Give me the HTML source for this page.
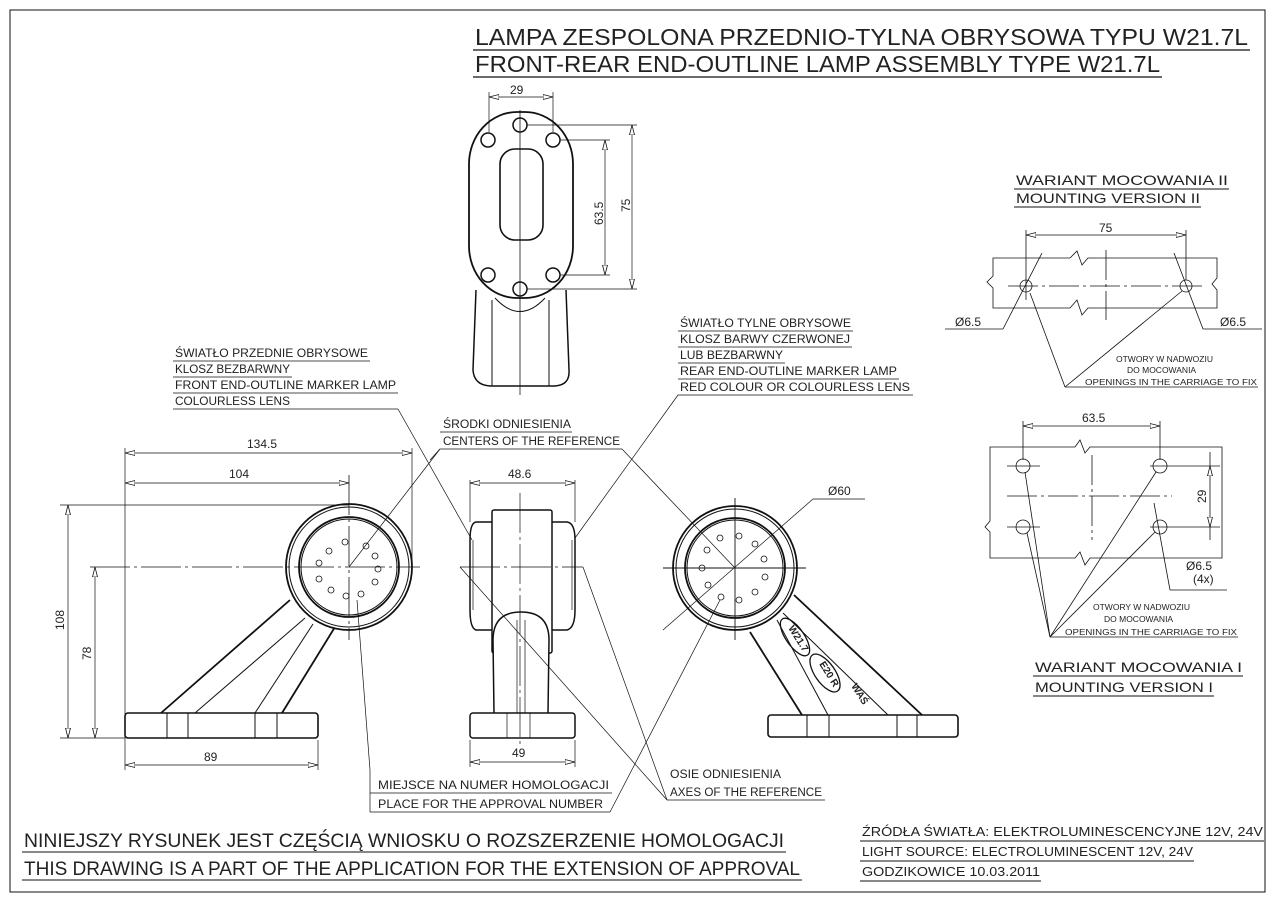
<!DOCTYPE html>
<html><head><meta charset="utf-8"><style>
html,body{margin:0;padding:0;background:#fff}
svg{display:block}
text{font-family:"Liberation Sans",sans-serif;fill:#222}
</style></head><body>
<svg width="1273" height="900" viewBox="0 0 1273 900" xmlns="http://www.w3.org/2000/svg" fill="none" stroke="#111">
<defs>
<marker id="a" viewBox="0 0 10 6" refX="10" refY="3" markerWidth="10" markerHeight="6" orient="auto-start-reverse" markerUnits="userSpaceOnUse"><path d="M10 3 L0 0.5 L0 5.5Z" fill="#fff" stroke="#111" stroke-width="0.8"/></marker>
</defs>
<rect x="10" y="10" width="1255" height="882" stroke-width="1"/>

<!-- Title -->
<g stroke="none">
<text x="475" y="45" font-size="23" textLength="773" lengthAdjust="spacingAndGlyphs">LAMPA ZESPOLONA PRZEDNIO-TYLNA OBRYSOWA TYPU W21.7L</text>
<text x="475" y="72" font-size="23" textLength="685" lengthAdjust="spacingAndGlyphs">FRONT-REAR END-OUTLINE LAMP ASSEMBLY TYPE W21.7L</text>
</g>
<line x1="473" y1="50" x2="1250" y2="50" stroke-width="1.2"/>
<line x1="473" y1="77" x2="1162" y2="77" stroke-width="1.2"/>

<!-- TOP VIEW -->
<g stroke-width="1">
<path d="M476 290 L473 370 Q474 385 490 386 L555 386 Q570 385 569 370 L566 290" stroke-width="1.5"/>
<line x1="492" y1="300" x2="492" y2="386"/><line x1="549" y1="300" x2="549" y2="386"/>
<path d="M495 298 Q520 325 545 298" />
<rect x="469" y="112" width="104" height="186" rx="48" ry="52" stroke-width="1.8" fill="#fff"/>
<rect x="500" y="149" width="43" height="91" rx="15" stroke-width="1.6"/>
<circle cx="520" cy="125" r="7" stroke-width="1.5"/><circle cx="488" cy="140" r="7" stroke-width="1.5"/><circle cx="553" cy="140" r="7" stroke-width="1.5"/>
<circle cx="488" cy="275" r="7" stroke-width="1.5"/><circle cx="553" cy="275" r="7" stroke-width="1.5"/><circle cx="520" cy="289" r="7" stroke-width="1.5"/>
<line x1="520" y1="110" x2="520" y2="395" stroke-width="0.8"/>
<line x1="489" y1="92" x2="489" y2="132" stroke-width="0.7"/><line x1="553" y1="92" x2="553" y2="132" stroke-width="0.7"/>
<line x1="489" y1="97" x2="553" y2="97" stroke-width="0.7" marker-start="url(#a)" marker-end="url(#a)"/>
<line x1="560" y1="140" x2="610" y2="140" stroke-width="0.7"/><line x1="560" y1="275" x2="610" y2="275" stroke-width="0.7"/>
<line x1="605" y1="140" x2="605" y2="275" stroke-width="0.7" marker-start="url(#a)" marker-end="url(#a)"/>
<line x1="527" y1="125" x2="637" y2="125" stroke-width="0.7"/><line x1="527" y1="289" x2="637" y2="289" stroke-width="0.7"/>
<line x1="632" y1="125" x2="632" y2="289" stroke-width="0.7" marker-start="url(#a)" marker-end="url(#a)"/>
</g>
<g stroke="none" font-size="12">
<text x="510" y="94">29</text>
<text x="0" y="0" transform="translate(603,225) rotate(-90)">63.5</text>
<text x="0" y="0" transform="translate(630,212) rotate(-90)">75</text>
</g>

<!-- LEFT VIEW -->
<g stroke-width="1">
<line x1="161" y1="713" x2="290" y2="600" stroke-width="1.8"/>
<line x1="195" y1="713" x2="305" y2="618"/>
<line x1="255" y1="713" x2="313" y2="624"/>
<line x1="282" y1="713" x2="335" y2="627" stroke-width="1.8"/>
<rect x="125" y="713" width="193" height="25" rx="3" stroke-width="1.6" fill="#fff"/>
<line x1="167" y1="713" x2="167" y2="738"/><line x1="188" y1="713" x2="188" y2="738"/>
<line x1="255" y1="713" x2="255" y2="738"/><line x1="277" y1="713" x2="277" y2="738"/>
<circle cx="349" cy="567" r="63" stroke-width="1.8" fill="#fff"/>
<circle cx="349" cy="567" r="60"/>
<circle cx="349" cy="567" r="50" stroke-width="1.8"/>
<circle cx="349" cy="567" r="48"/>
<g stroke-width="0.8">
<circle cx="366" cy="546" r="3"/><circle cx="375" cy="556" r="3"/><circle cx="378" cy="569" r="3"/><circle cx="375" cy="582" r="3"/><circle cx="361" cy="594" r="3"/><circle cx="346" cy="596" r="3"/>
<circle cx="331" cy="590" r="3"/><circle cx="319" cy="579" r="3"/><circle cx="319" cy="563" r="3"/><circle cx="329" cy="551" r="3"/><circle cx="345" cy="542" r="3"/>
</g>
<line x1="90" y1="567" x2="420" y2="567" stroke-width="0.8" stroke-dasharray="40 4 3 4"/>
<line x1="349" y1="475" x2="349" y2="640" stroke-width="0.8" stroke-dasharray="40 4 3 4"/>
<g stroke-width="0.7">
<line x1="125" y1="448" x2="125" y2="770"/><line x1="412" y1="448" x2="412" y2="560"/>
<line x1="125" y1="453" x2="412" y2="453" marker-start="url(#a)" marker-end="url(#a)"/>
<line x1="125" y1="483" x2="349" y2="483" marker-start="url(#a)" marker-end="url(#a)"/>
<line x1="60" y1="505" x2="349" y2="505"/><line x1="60" y1="738" x2="125" y2="738"/>
<line x1="68" y1="505" x2="68" y2="738" marker-start="url(#a)" marker-end="url(#a)"/>
<line x1="95" y1="567" x2="95" y2="738" marker-start="url(#a)" marker-end="url(#a)"/>
<line x1="318" y1="740" x2="318" y2="770"/>
<line x1="125" y1="765" x2="318" y2="765" marker-start="url(#a)" marker-end="url(#a)"/>
</g>
</g>
<g stroke="none" font-size="12">
<text x="247" y="448">134.5</text><text x="229" y="478">104</text><text x="204" y="761">89</text>
<text transform="translate(64,630) rotate(-90)">108</text>
<text transform="translate(91,660) rotate(-90)">78</text>
</g>

<!-- MIDDLE VIEW -->
<g stroke-width="1.5">
<path d="M476 522 L567 522 Q575 523 575 540 L575 610 Q575 628 567 630 L476 630 Q470 628 470 610 L470 540 Q470 523 476 522Z" fill="#fff"/>
<rect x="492" y="510" width="60" height="143" rx="2" fill="#fff"/>
<path d="M494 713 L493 640 Q493 612 521 612 Q549 612 549 640 L548 713" fill="#fff"/>
<rect x="470" y="713" width="105" height="25" rx="3" fill="#fff"/>
</g>
<g stroke-width="0.7">
<line x1="473" y1="540" x2="473" y2="610"/><line x1="572" y1="540" x2="572" y2="610"/>
<line x1="517" y1="620" x2="517" y2="713"/><line x1="525" y1="620" x2="525" y2="713"/>
<line x1="507" y1="713" x2="507" y2="738"/><line x1="530" y1="713" x2="530" y2="738"/>
<line x1="520" y1="493" x2="520" y2="748" stroke-dasharray="40 4 3 4"/>
<line x1="460" y1="567" x2="583" y2="567" stroke-dasharray="40 4 3 4"/>
<line x1="470" y1="480" x2="470" y2="522"/><line x1="575" y1="480" x2="575" y2="522"/>
<line x1="470" y1="483" x2="575" y2="483" marker-start="url(#a)" marker-end="url(#a)"/>
<line x1="470" y1="740" x2="470" y2="767"/><line x1="575" y1="740" x2="575" y2="767"/>
<line x1="470" y1="762" x2="575" y2="762" marker-start="url(#a)" marker-end="url(#a)"/>
</g>
<g stroke="none" font-size="12"><text x="508" y="478">48.6</text><text x="512" y="757">49</text></g>

<!-- RIGHT VIEW -->
<g stroke-width="1">
<line x1="794" y1="595" x2="922" y2="715" stroke-width="1.8"/>
<line x1="750" y1="632" x2="802" y2="715" stroke-width="1.8"/>
<line x1="777" y1="620" x2="828" y2="715"/>
<line x1="783" y1="613" x2="888" y2="715"/>
<rect x="768" y="715" width="190" height="22" rx="3" stroke-width="1.6" fill="#fff"/>
<line x1="807" y1="715" x2="807" y2="737"/><line x1="829" y1="715" x2="829" y2="737"/>
<line x1="897" y1="715" x2="897" y2="737"/><line x1="917" y1="715" x2="917" y2="737"/>
<circle cx="735" cy="568" r="62" stroke-width="1.8" fill="#fff"/>
<circle cx="735" cy="568" r="59"/>
<circle cx="735" cy="568" r="50" stroke-width="1.8"/>
<circle cx="735" cy="568" r="48"/>
<g stroke-width="0.8">
<circle cx="720" cy="538" r="3"/><circle cx="739" cy="536" r="3"/><circle cx="755" cy="544" r="3"/><circle cx="764" cy="559" r="3"/><circle cx="765" cy="577" r="3"/><circle cx="755" cy="592" r="3"/>
<circle cx="739" cy="600" r="3"/><circle cx="721" cy="597" r="3"/><circle cx="708" cy="585" r="3"/><circle cx="702" cy="568" r="3"/><circle cx="707" cy="550" r="3"/>
</g>
<line x1="663" y1="568" x2="806" y2="568" stroke-width="0.9"/>
<line x1="735" y1="498" x2="735" y2="640" stroke-width="0.9"/>
<line x1="663" y1="630" x2="813" y2="499" stroke-width="0.7"/><line x1="813" y1="499" x2="865" y2="499" stroke-width="0.7"/>
<ellipse cx="795" cy="637" rx="22" ry="9" transform="rotate(55 795 637)" stroke-width="1.3"/>
<ellipse cx="825" cy="673" rx="22" ry="10" transform="rotate(55 825 673)" stroke-width="1.3"/>
</g>
<g stroke="none" font-weight="bold" font-size="10">
<text transform="translate(788,628) rotate(58)">W21.7</text>
<text transform="translate(819,664) rotate(58)">E20 R</text>
<text transform="translate(851,686) rotate(58)">WAŚ</text>
</g>
<g stroke="none" font-size="12"><text x="828" y="495">Ø60</text></g>

<!-- Leaders / labels -->
<g stroke-width="0.7">
<line x1="173" y1="361" x2="370" y2="361"/><line x1="173" y1="377" x2="292" y2="377"/>
<line x1="173" y1="393" x2="398" y2="393"/><line x1="173" y1="409" x2="398" y2="409"/>
<line x1="398" y1="409" x2="472" y2="540"/>
<line x1="678" y1="331" x2="853" y2="331"/><line x1="678" y1="347" x2="852" y2="347"/>
<line x1="678" y1="363" x2="785" y2="363"/><line x1="678" y1="379" x2="899" y2="379"/>
<line x1="678" y1="395" x2="913" y2="395"/>
<line x1="678" y1="395" x2="575" y2="538"/>
<line x1="440" y1="432" x2="572" y2="432"/><line x1="440" y1="449" x2="622" y2="449"/>
<line x1="440" y1="449" x2="349" y2="567"/><line x1="440" y1="449" x2="430" y2="460"/>
<line x1="622" y1="449" x2="735" y2="568"/>
<line x1="370" y1="793" x2="612" y2="793"/><line x1="370" y1="812" x2="610" y2="812"/>
<line x1="370" y1="812" x2="370" y2="770"/><line x1="370" y1="770" x2="357" y2="600"/>
<line x1="610" y1="812" x2="720" y2="600"/>
<line x1="667" y1="800" x2="825" y2="800"/>
<line x1="667" y1="800" x2="460" y2="567"/><line x1="667" y1="800" x2="583" y2="567"/>
</g>
<g stroke="none" font-size="11.5">
<text x="175" y="357" textLength="193" lengthAdjust="spacingAndGlyphs">ŚWIATŁO PRZEDNIE OBRYSOWE</text>
<text x="175" y="373" textLength="115" lengthAdjust="spacingAndGlyphs">KLOSZ BEZBARWNY</text>
<text x="175" y="389" textLength="221" lengthAdjust="spacingAndGlyphs">FRONT END-OUTLINE MARKER LAMP</text>
<text x="175" y="405" textLength="115" lengthAdjust="spacingAndGlyphs">COLOURLESS LENS</text>
<text x="680" y="327" textLength="171" lengthAdjust="spacingAndGlyphs">ŚWIATŁO TYLNE OBRYSOWE</text>
<text x="680" y="343" textLength="170" lengthAdjust="spacingAndGlyphs">KLOSZ BARWY CZERWONEJ</text>
<text x="680" y="359" textLength="103" lengthAdjust="spacingAndGlyphs">LUB BEZBARWNY</text>
<text x="680" y="375" textLength="217" lengthAdjust="spacingAndGlyphs">REAR END-OUTLINE MARKER LAMP</text>
<text x="680" y="391" textLength="230" lengthAdjust="spacingAndGlyphs">RED COLOUR OR COLOURLESS LENS</text>
<text x="443" y="428" textLength="128" lengthAdjust="spacingAndGlyphs">ŚRODKI ODNIESIENIA</text>
<text x="443" y="445" textLength="177" lengthAdjust="spacingAndGlyphs">CENTERS OF THE REFERENCE</text>
<text x="378" y="789" textLength="231" lengthAdjust="spacingAndGlyphs">MIEJSCE NA NUMER HOMOLOGACJI</text>
<text x="378" y="808" textLength="225" lengthAdjust="spacingAndGlyphs">PLACE FOR THE APPROVAL NUMBER</text>
<text x="670" y="778" textLength="111" lengthAdjust="spacingAndGlyphs">OSIE ODNIESIENIA</text>
<text x="670" y="796" textLength="152" lengthAdjust="spacingAndGlyphs">AXES OF THE REFERENCE</text>
</g>

<!-- MOUNTING VERSIONS -->
<g stroke="none" font-size="14">
<text x="1016" y="185" textLength="212" lengthAdjust="spacingAndGlyphs">WARIANT MOCOWANIA II</text>
<text x="1016" y="203" textLength="184" lengthAdjust="spacingAndGlyphs">MOUNTING VERSION II</text>
<text x="1035" y="672" textLength="207" lengthAdjust="spacingAndGlyphs">WARIANT MOCOWANIA I</text>
<text x="1035" y="692" textLength="178" lengthAdjust="spacingAndGlyphs">MOUNTING VERSION I</text>
</g>
<g stroke-width="1">
<line x1="1014" y1="189" x2="1229" y2="189"/><line x1="1014" y1="207" x2="1201" y2="207"/>
<line x1="1033" y1="676" x2="1243" y2="676"/><line x1="1033" y1="696" x2="1214" y2="696"/>
</g>
<g stroke-width="0.8">
<path d="M993 258 L1070 258 L1077 251 L1082 265 L1088 258 L1217 258 L1217 278 L1212 284 L1217 290 L1217 308 L1088 308 L1082 315 L1077 300 L1070 308 L993 308 L993 288 L987 282 L993 276 Z"/>
<circle cx="1026" cy="286" r="6"/><circle cx="1186" cy="286" r="6"/>
<line x1="1008" y1="286" x2="1205" y2="286" stroke-dasharray="30 4 3 4"/>
<line x1="1106" y1="250" x2="1106" y2="320" stroke-dasharray="30 4 3 4"/>
<line x1="1026" y1="230" x2="1026" y2="300"/><line x1="1186" y1="230" x2="1186" y2="280"/>
<line x1="1026" y1="235" x2="1186" y2="235" marker-start="url(#a)" marker-end="url(#a)"/>
<line x1="945" y1="329" x2="1003" y2="329"/><line x1="1003" y1="329" x2="1042" y2="253"/>
<line x1="1203" y1="329" x2="1262" y2="329"/><line x1="1203" y1="329" x2="1174" y2="253"/>
<line x1="1065" y1="387" x2="1030" y2="293"/><line x1="1065" y1="387" x2="1182" y2="291"/>
<line x1="1065" y1="387" x2="1258" y2="387"/>
<path d="M990 447 L1075 447 L1080 440 L1085 453 L1090 447 L1222 447 L1222 558 L1090 558 L1085 565 L1080 552 L1075 558 L990 558 L990 532 L985 527 L990 521 Z"/>
<circle cx="1023" cy="466" r="7"/><circle cx="1160" cy="466" r="7"/><circle cx="1023" cy="527" r="7"/><circle cx="1160" cy="527" r="7"/>
<line x1="1007" y1="466" x2="1040" y2="466"/><line x1="1150" y1="466" x2="1220" y2="466"/>
<line x1="1007" y1="527" x2="1040" y2="527"/><line x1="1150" y1="527" x2="1220" y2="527"/>
<line x1="1007" y1="496" x2="1172" y2="496" stroke-dasharray="30 4 3 4"/>
<line x1="1092" y1="455" x2="1092" y2="540" stroke-dasharray="30 4 3 4"/>
<line x1="1023" y1="421" x2="1023" y2="460"/><line x1="1160" y1="421" x2="1160" y2="460"/>
<line x1="1023" y1="426" x2="1160" y2="426" marker-start="url(#a)" marker-end="url(#a)"/>
<line x1="1210" y1="466" x2="1210" y2="527" marker-start="url(#a)" marker-end="url(#a)"/>
<line x1="1210" y1="452" x2="1210" y2="466"/><line x1="1210" y1="527" x2="1210" y2="540"/>
<line x1="1170" y1="590" x2="1227" y2="590"/><line x1="1170" y1="590" x2="1154" y2="503"/>
<line x1="1050" y1="637" x2="1238" y2="637"/>
<line x1="1050" y1="637" x2="1025" y2="472"/><line x1="1050" y1="637" x2="1027" y2="533"/>
<line x1="1050" y1="637" x2="1156" y2="472"/><line x1="1050" y1="637" x2="1155" y2="532"/>
</g>
<g stroke="none" font-size="12">
<text x="1099" y="232">75</text>
<text x="955" y="326">Ø6.5</text><text x="1220" y="326">Ø6.5</text>
<text x="1082" y="422">63.5</text>
<text transform="translate(1206,503) rotate(-90)">29</text>
<text x="1186" y="570">Ø6.5</text><text x="1193" y="583">(4x)</text>
</g>
<g stroke="none" font-size="8.5">
<text x="1116" y="362">OTWORY W NADWOZIU</text>
<text x="1127" y="373">DO MOCOWANIA</text>
<text x="1085" y="385" textLength="172" lengthAdjust="spacingAndGlyphs">OPENINGS IN THE CARRIAGE TO FIX</text>
<text x="1093" y="610">OTWORY W NADWOZIU</text>
<text x="1104" y="622">DO MOCOWANIA</text>
<text x="1065" y="635" textLength="172" lengthAdjust="spacingAndGlyphs">OPENINGS IN THE CARRIAGE TO FIX</text>
</g>

<!-- Bottom texts -->
<g stroke="none">
<text x="24" y="847" font-size="19" textLength="760" lengthAdjust="spacingAndGlyphs">NINIEJSZY RYSUNEK JEST CZĘŚCIĄ WNIOSKU O  ROZSZERZENIE  HOMOLOGACJI</text>
<text x="24" y="875" font-size="19" textLength="776" lengthAdjust="spacingAndGlyphs">THIS DRAWING IS A PART OF THE APPLICATION FOR THE EXTENSION OF APPROVAL</text>
<text x="862" y="836" font-size="12.5" textLength="401" lengthAdjust="spacingAndGlyphs">ŹRÓDŁA ŚWIATŁA: ELEKTROLUMINESCENCYJNE  12V, 24V</text>
<text x="862" y="856" font-size="12.5" textLength="331" lengthAdjust="spacingAndGlyphs">LIGHT SOURCE: ELECTROLUMINESCENT  12V, 24V</text>
<text x="862" y="876" font-size="12.5" textLength="178" lengthAdjust="spacingAndGlyphs">GODZIKOWICE 10.03.2011</text>
</g>
<g stroke-width="1">
<line x1="22" y1="852" x2="786" y2="852"/><line x1="22" y1="880" x2="802" y2="880"/>
<line x1="860" y1="841" x2="1264" y2="841"/><line x1="860" y1="861" x2="1194" y2="861"/><line x1="860" y1="881" x2="1041" y2="881"/>
</g>
</svg>
</body></html>
